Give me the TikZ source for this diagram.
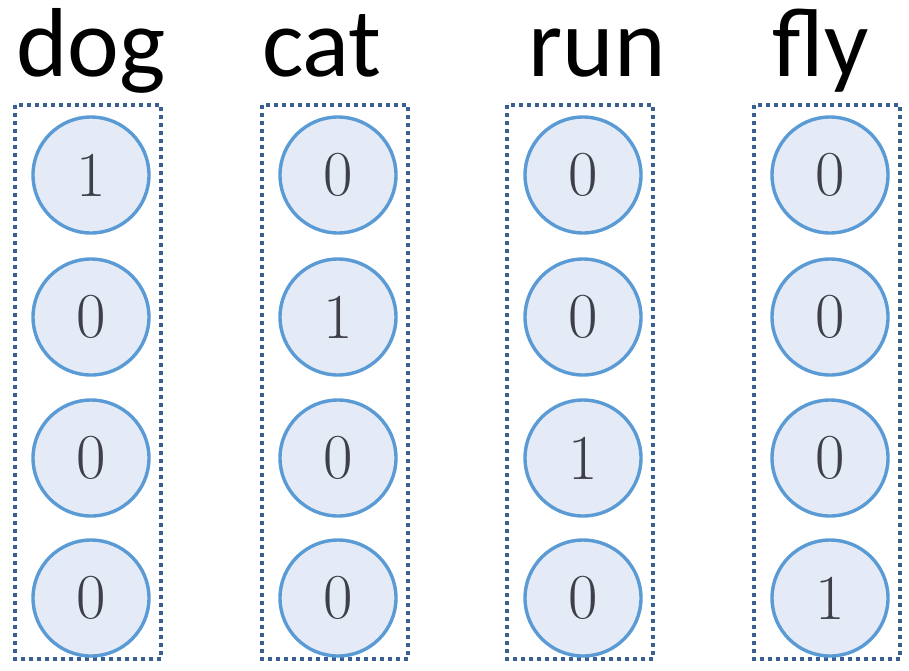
\documentclass[tikz,border=0pt]{standalone}
\usepackage{fontspec}
\newfontfamily\wordfont{Carlito}
\begin{document}
\begin{tikzpicture}[x=1pt,y=-1pt,
  word/.style={anchor=base,inner sep=0pt,font=\wordfont\fontsize{98}{98}\selectfont},
  unit/.style={circle,minimum size=116pt,inner sep=0pt,draw=cellblue,fill=cellfill,
    line width=3.4pt,text=digitgray,font=\fontsize{64}{64}\selectfont},
  frame/.style={draw=framecol,line width=4pt,dash pattern=on 4pt off 4pt}]
\definecolor{cellblue}{HTML}{5B9BD5}
\definecolor{cellfill}{HTML}{E4EBF6}
\definecolor{digitgray}{HTML}{3F3F4A}
\definecolor{framecol}{HTML}{3A5F93}
\useasboundingbox (0,0) rectangle (909,670);
% column x positions and words
\foreach \w/\cx/\lx/\ones [count=\c] in {dog/88/91/1,cat/335/322/2,run/580/597/3,fly/827/821/4}{
  \node[word] (w\c) at (\lx,76) {\w};
  \draw[frame] (\cx-73,105) rectangle (\cx+73,659);
  \foreach \r/\cy in {1/175,2/317,3/458,4/598}{
    \pgfmathtruncatemacro{\v}{\r==\ones ? 1 : 0}
    \node[unit] (n\c\r) at (\cx+3,\cy) {\v};
  }
}
\end{tikzpicture}
\end{document}
